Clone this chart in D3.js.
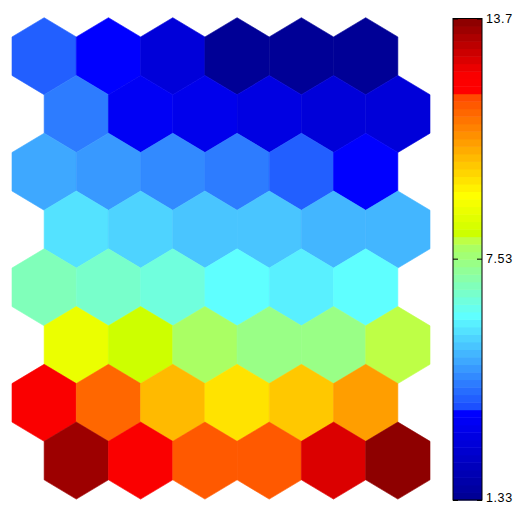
<!DOCTYPE html>
<html><head><meta charset="utf-8">
<script src="https://cdn.jsdelivr.net/npm/d3@7"></script>
<style>body{margin:0;background:#fff}svg{display:block}</style>
</head><body>
<svg id="chart" width="515" height="508"></svg>
<script>
// Hexagonal SOM component plane: 8 rows x 6 columns (row 0 at top)
const row0 = [3.94, 3.55, 2.76, 1.40, 1.33, 1.45];
const row1 = [4.32, 3.36, 3.20, 2.97, 2.80, 2.74];
const row2 = [4.91, 4.71, 4.52, 4.33, 3.95, 3.58];
const row3 = [5.68, 5.49, 5.29, 5.30, 5.10, 5.12];
const row4 = [6.84, 6.64, 6.45, 6.06, 5.87, 6.07];
const row5 = [8.77, 8.20, 7.80, 7.41, 7.43, 7.99];
const row6 = [12.24, 11.28, 10.12, 9.54, 9.93, 10.51];
const row7 = [13.41, 12.22, 11.48, 11.46, 12.63, 13.70];
const rowsData = [row0, row1, row2, row3, row4, row5, row6, row7];

const vMin = 1.33, vMax = 13.7;
const tickValues = [1.33, 7.53, 13.7];
const tickLabels = ["1.33", "7.53", "13.7"];

// 64-band colormap anchors (band index -> colour)
const cmapIdx = [0, 11, 12, 24, 33, 34, 35, 40, 53, 54, 56, 63];
const cmapCol = ["#000096", "#0000ff", "#1c50ff", "#5fffff", "#aaff64", "#beff46",
                 "#cdff00", "#ffff00", "#ff4b00", "#ff0000", "#fa0000", "#8e0000"];
const nBands = 64;

const svg = d3.select("#chart");
const bandScale = d3.scaleLinear().domain(cmapIdx).range(cmapCol).interpolate(d3.interpolateRgb);
const bands = d3.range(nBands).map(i => bandScale(i));
const color = d3.scaleQuantize().domain([vMin, vMax]).range(bands);

// hex grid
const s3 = Math.sqrt(0.75);
const xs = d3.scaleLinear().domain([-0.5, 6]).range([12, 430]);
const ys = d3.scaleLinear().domain([0, 7 * s3]).range([56.2, 460.6]);
const hexVerts = [[0, -1/Math.sqrt(3)], [0.5, -0.5/Math.sqrt(3)], [0.5, 0.5/Math.sqrt(3)],
                  [0, 1/Math.sqrt(3)], [-0.5, 0.5/Math.sqrt(3)], [-0.5, -0.5/Math.sqrt(3)]];

const cells = [];
rowsData.forEach((r, ri) => r.forEach((v, ci) => {
  cells.push({cx: ci + (ri % 2) * 0.5, cy: ri * s3, v});
}));

svg.append("g").selectAll("polygon").data(cells).join("polygon")
  .attr("points", d => hexVerts.map(p => [xs(d.cx + p[0]), ys(d.cy + p[1])].join(",")).join(" "))
  .attr("fill", d => color(d.v))
  .attr("stroke", d => color(d.v))
  .attr("stroke-width", 0.6);

// colorbar
const cbX0 = 453, cbX1 = 482;
const cb = d3.scaleLinear().domain([vMin, vMax]).range([500, 18.5]);
const step = (vMax - vMin) / nBands;
svg.append("g").selectAll("rect").data(bands).join("rect")
  .attr("x", cbX0)
  .attr("width", cbX1 - cbX0)
  .attr("y", (c, i) => cb(vMin + (i + 1) * step))
  .attr("height", (c, i) => cb(vMin + i * step) - cb(vMin + (i + 1) * step) + 0.5)
  .attr("fill", c => c);

svg.append("rect")
  .attr("x", cbX0).attr("y", cb(vMax))
  .attr("width", cbX1 - cbX0).attr("height", cb(vMin) - cb(vMax))
  .attr("fill", "none").attr("stroke", "#000").attr("stroke-width", 1);

const axR = svg.append("g").attr("transform", `translate(${cbX1},0)`)
  .call(d3.axisRight(cb).tickValues(tickValues).tickFormat((d, i) => tickLabels[i])
    .tickSizeInner(-5).tickSizeOuter(0).tickPadding(4));
axR.select(".domain").remove();
axR.selectAll("line").attr("stroke", "#000");
axR.selectAll("text").attr("font-family", "Liberation Sans, Arial, sans-serif")
  .attr("font-size", 12.5).attr("letter-spacing", "0.6px").attr("fill", "#000");
axR.selectAll(".tick").filter(d => d === vMin).select("text").attr("dy", "0.1em");

const axL = svg.append("g").attr("transform", `translate(${cbX0},0)`)
  .call(d3.axisLeft(cb).tickValues(tickValues).tickFormat("")
    .tickSizeInner(-5).tickSizeOuter(0));
axL.select(".domain").remove();
axL.selectAll("line").attr("stroke", "#000");
</script>
</body></html>
